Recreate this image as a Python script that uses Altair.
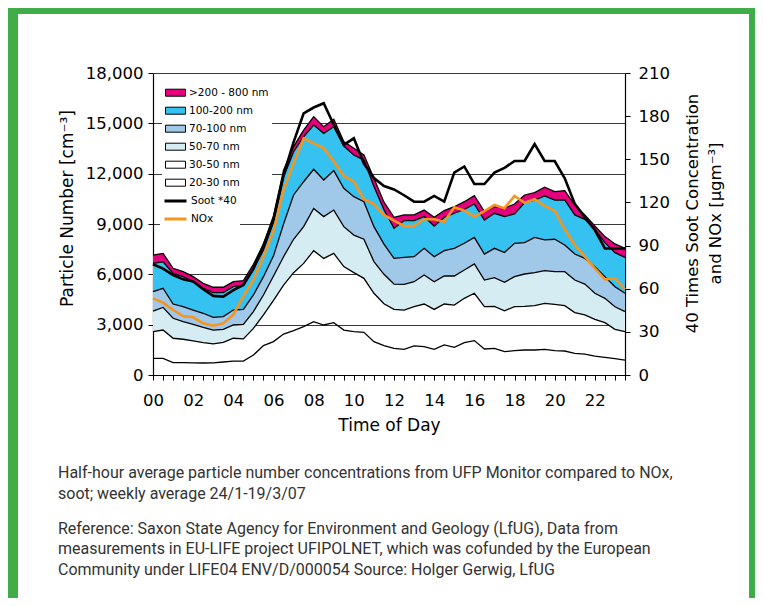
import altair as alt
import pandas as pd

# half-hour grid 00:00 .. 23:30
times = [h / 2 for h in range(48)]

band_names = [">200 - 800 nm", "100-200 nm", "70-100 nm", "50-70 nm", "30-50 nm", "20-30 nm"]
band_colors = ["#E4007C", "#36C2F0", "#A0C8E8", "#D5ECF3", "transparent", "transparent"]

# cumulative upper edge of each size band (particles / cm3)
top_20_30 = [990, 990, 740, 740, 720, 715, 720, 775, 830, 830,
             1190, 1750, 1990, 2440, 2640, 2880, 3180, 2980, 3120, 2680,
             2580, 2540, 1990, 1750, 1590, 1530, 1730, 1690, 1530, 1790,
             1650, 1930, 2050, 1550, 1590, 1390, 1450, 1490, 1490, 1530,
             1450, 1430, 1290, 1250, 1130, 1050, 970, 890]
top_30_50 = [2580, 2680, 2190, 2130, 2030, 1930, 1850, 1950, 2190, 2150,
             2780, 3580, 4450, 5360, 6100, 6650, 7410, 6950, 7250, 6460,
             6100, 5760, 4870, 4250, 3910, 3870, 4070, 4230, 3910, 4230,
             4170, 4570, 4870, 4070, 4090, 3830, 4070, 4090, 4130, 4270,
             4210, 4130, 3720, 3580, 3320, 3120, 2720, 2580]
top_50_70 = [3810, 4030, 3380, 3180, 3020, 2840, 2680, 2720, 2980, 3020,
             3780, 4770, 5900, 7050, 8090, 8840, 9930, 9440, 9830, 8840,
             8340, 8090, 6760, 6000, 5420, 5400, 5560, 5960, 5560, 5900,
             5900, 6260, 6620, 5660, 5800, 5530, 5860, 6020, 6100, 6220,
             6160, 6160, 5660, 5420, 4870, 4570, 4070, 3780]
top_70_100 = [4970, 5170, 4230, 4070, 3870, 3680, 3440, 3480, 3870, 3910,
              4770, 5860, 7100, 9000, 10730, 11520, 12260, 11620, 12180, 11130,
              10630, 10330, 8840, 7800, 6950, 7010, 7050, 7550, 7050, 7410,
              7550, 7850, 8200, 7210, 7550, 7300, 7850, 7890, 8200, 8050,
              8090, 7750, 7210, 6950, 6460, 5860, 5260, 4870]
top_100_200 = [6650, 6750, 6060, 5860, 5560, 5170, 4910, 4910, 5270, 5360,
               6300, 7450, 9100, 11800, 13310, 14200, 14900, 14400, 14800, 13650,
               13110, 12810, 11230, 9850, 8740, 9200, 9200, 9440, 8880, 9400,
               9640, 9870, 10190, 9240, 9640, 9450, 9600, 10270, 10430, 10670,
               10430, 10430, 9540, 9280, 8680, 7890, 7290, 7010]
top_200_800 = [7150, 7250, 6360, 6160, 5860, 5460, 5230, 5230, 5560, 5620,
               6600, 7800, 9500, 12200, 13610, 14600, 15400, 14800, 15240, 13910,
               13510, 13110, 11720, 10300, 9400, 9540, 9540, 9830, 9400, 9800,
               10030, 10330, 10690, 9740, 10030, 9950, 10190, 10730, 10870, 11190,
               10930, 10990, 10130, 9540, 8880, 8250, 7810, 7550]

# right axis series (ug/m3)
soot_x40 = [77, 74, 69.5, 66.5, 65, 59.6, 55, 54.5, 59, 62.6,
            74, 90, 108, 139, 162, 182, 186, 189, 174, 160,
            164.6, 147, 137, 131.4, 129, 125, 120.5, 120.5, 124.5, 120.5,
            140.7, 145, 132.8, 132.8, 140.7, 144, 148.8, 148.8, 160.6, 148.8,
            148.8, 136.8, 119, 109.6, 100.8, 88, 88, 88]
nox = [53.3, 50.3, 45.2, 41, 40.1, 35.9, 34.3, 35.9, 42, 54.9,
       66.1, 82.3, 100, 128.6, 147.2, 164.6, 161.1, 157.6, 148.4, 138.4,
       134.4, 122.2, 118.9, 111.3, 107.3, 103.6, 103.6, 108.3, 108.3, 106.6,
       116.6, 114.3, 110.1, 114, 118.2, 116, 124.5, 119.8, 122.2, 117.5,
       114.3, 101.3, 90.4, 82.3, 74.2, 66.5, 67.2, 59.6]

left_ticks = [0, 3000, 6000, 9000, 12000, 15000, 18000]
right_ticks = [0, 30, 60, 90, 120, 150, 180, 210]
line_names = ["Soot *40", "NOx"]
line_colors = ["#000000", "#F7941D"]

caption_1 = ["Half-hour average particle number concentrations from UFP Monitor compared to NOx,",
             "soot; weekly average 24/1-19/3/07"]
caption_2 = ["Reference: Saxon State Agency for Environment and Geology (LfUG), Data from",
             "measurements in EU-LIFE project UFIPOLNET, which was cofunded by the European",
             "Community under LIFE04 ENV/D/000054 Source: Holger Gerwig, LfUG"]

# ---- tables ----
stack_order = [("20-30 nm", top_20_30), ("30-50 nm", top_30_50), ("50-70 nm", top_50_70),
               ("70-100 nm", top_70_100), ("100-200 nm", top_100_200), (">200 - 800 nm", top_200_800)]
rows = []
prev = [0] * len(times)
for name, tops in stack_order:
    for t, lo, hi in zip(times, prev, tops):
        rows.append({"time": t, "band": name, "lo": lo, "hi": hi})
    prev = tops
bands_df = pd.DataFrame(rows)

lines_df = pd.DataFrame(
    [{"time": t, "series": "Soot *40", "value": v} for t, v in zip(times, soot_x40)]
    + [{"time": t, "series": "NOx", "value": v} for t, v in zip(times, nox)]
)

FONT = "DejaVu Sans"
LFS = 16.5

x_enc = alt.X(
    "time:Q",
    scale=alt.Scale(domain=[0, 23.5], nice=False, zero=False),
    axis=alt.Axis(
        values=times,
        labelExpr="datum.value % 2 == 0 ? (datum.value < 10 ? '0' + datum.value : '' + datum.value) : ''",
        title="Time of Day", grid=False, tickSize=5, labelPadding=12, labelOverlap=False,
        labelFlush=False, labelFont=FONT, labelFontSize=LFS, titleFont=FONT, titleFontSize=17,
        titleFontWeight="normal", titlePadding=9,
    ),
)

areas = alt.Chart(bands_df).mark_area(opacity=1, strokeWidth=0).encode(
    x=x_enc,
    y=alt.Y(
        "hi:Q",
        scale=alt.Scale(domain=[0, 18000], nice=False),
        axis=alt.Axis(
            values=left_ticks, format=",d", title="Particle Number [cm⁻³]", grid=True,
            gridColor="#3a3a3a", gridWidth=1, tickSize=5, labelPadding=5,
            labelFont=FONT, labelFontSize=LFS, titleFont=FONT, titleFontSize=17,
            titleFontWeight="normal", titlePadding=9, titleY=135,
        ),
    ),
    y2="lo:Q",
    fill=alt.Fill(
        "band:N",
        scale=alt.Scale(domain=band_names, range=band_colors),
        legend=alt.Legend(
            title=None, orient="none", legendX=9, legendY=7.7, padding=3, fillColor="white",
            symbolType="M-1,-0.35L1,-0.35L1,0.35L-1,0.35Z", symbolSize=400,
            symbolStrokeColor="black", symbolStrokeWidth=1, symbolOpacity=1,
            labelFont=FONT, labelFontSize=10.5, labelColor="black", labelOffset=3,
            clipHeight=18, rowPadding=0,
        ),
    ),
)

edges = alt.Chart(bands_df).mark_line(color="black", strokeWidth=1.3).encode(
    x=x_enc, y=alt.Y("hi:Q"), detail="band:N"
)

y_right = alt.Y(
    "value:Q",
    scale=alt.Scale(domain=[0, 210], nice=False),
    axis=alt.Axis(
        orient="right", values=right_ticks, title=["40 Times Soot Concentration", "and NOx [µgm⁻³]"],
        titleAngle=270, grid=False, tickSize=5, labelPadding=8,
        labelFont=FONT, labelFontSize=LFS, titleFont=FONT, titleFontSize=16.5,
        titleFontWeight="normal", titlePadding=8, titleY=140, titleLineHeight=23,
    ),
)
stroke_enc = alt.Stroke(
    "series:N",
    scale=alt.Scale(domain=line_names, range=line_colors),
    legend=alt.Legend(
        title=None, orient="none", legendX=7, legendY=116, padding=3, fillColor="white",
        symbolType="stroke", symbolSize=484, symbolStrokeWidth=3,
        labelFont=FONT, labelFontSize=10.5, labelColor="black", labelOffset=3,
        clipHeight=18, rowPadding=0,
    ),
)

soot_line = alt.Chart(lines_df).transform_filter(alt.datum.series == "Soot *40").mark_line(
    strokeWidth=2.6).encode(x=x_enc, y=y_right, stroke=stroke_enc)
nox_line = alt.Chart(lines_df).transform_filter(alt.datum.series == "NOx").mark_line(
    strokeWidth=2.6).encode(x=x_enc, y=y_right, stroke=stroke_enc)

GREEN = "#41AD49"
frame_data = alt.Data(values=[{"k": 1}])
frame_left = alt.Chart(frame_data).mark_rect(color=GREEN).encode(
    x=alt.value(-145), x2=alt.value(-135), y=alt.value(-65), y2=alt.value(525))
frame_top = alt.Chart(frame_data).mark_rect(color=GREEN).encode(
    x=alt.value(-145), x2=alt.value(602), y=alt.value(-65), y2=alt.value(-59))
frame_right = alt.Chart(frame_data).mark_rect(color=GREEN).encode(
    x=alt.value(596), x2=alt.value(602), y=alt.value(-65), y2=alt.value(525))

left = alt.layer(areas, edges)
right = alt.layer(soot_line, nox_line)

chart = alt.layer(left, right, frame_left, frame_top, frame_right).resolve_scale(
    y="independent"
).properties(
    width=472,
    height=302,
    autosize=alt.AutoSizeParams(type="none"),
    padding={"left": 145, "top": 65, "right": 130, "bottom": 223},
    background="white",
    title=alt.TitleParams(
        text=caption_1, subtitle=caption_2, orient="bottom", anchor="start", frame="group",
        dx=-95, offset=-133, font="Roboto", fontSize=16, fontWeight="normal", color="#333333",
        lineHeight=20.5, subtitleFont="Roboto", subtitleFontSize=16, subtitleColor="#333333",
        subtitleLineHeight=20.5, subtitlePadding=19,
    ),
).configure_axis(
    domainColor="black", tickColor="black", labelColor="black", titleColor="black",
    domainWidth=1.2, tickWidth=1,
).configure_view(stroke=None)

chart.save("out.html", embed_options={"renderer": "svg", "actions": False})
